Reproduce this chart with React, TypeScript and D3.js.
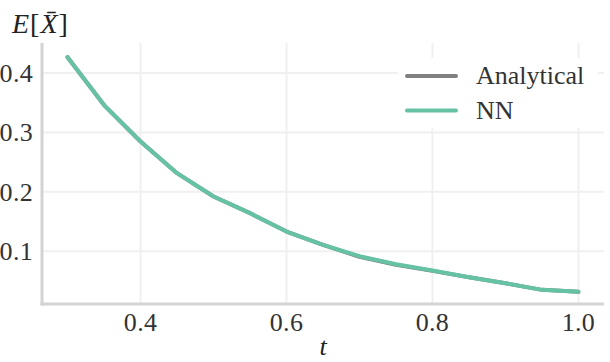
import React, { useEffect, useRef } from 'react';
import * as d3 from 'd3';

const tValues = [0.3, 0.35, 0.4, 0.45, 0.5, 0.55, 0.6, 0.65, 0.7, 0.75, 0.8, 0.85, 0.9, 0.95, 1.0];
const analytical = [0.4266, 0.346, 0.2847, 0.2313, 0.192, 0.164, 0.133, 0.1106, 0.0905, 0.0772, 0.0668, 0.0562, 0.046, 0.0348, 0.0315];
const nnValues = [0.4266, 0.346, 0.2847, 0.2313, 0.192, 0.164, 0.133, 0.1106, 0.0915, 0.078, 0.0673, 0.0562, 0.046, 0.0348, 0.0315];
const xTicks = [0.4, 0.6, 0.8, 1.0];
const yTicks = [0.1, 0.2, 0.3, 0.4];
const seriesNames = ['Analytical', 'NN'];
const seriesColors = ['#808080', '#66c2a5'];

const W = 610;
const H = 362;
const font = '"Liberation Serif", "DejaVu Serif", serif';

const App = () => {
  const svgRef = useRef<SVGSVGElement>(null);

  useEffect(() => {
    const svg = d3.select(svgRef.current);
    svg.selectAll('*').remove();

    const left = 42, right = 604, top = 43, bottom = 304;

    const x = d3.scaleLinear().domain([0.265, 1.035]).range([left, right]);
    const y = d3.scaleLinear().domain([0.011, 0.4505]).range([bottom, top]);

    // grid
    const grid = svg.append('g');
    grid.selectAll('line.v')
      .data(xTicks)
      .join('line')
        .attr('x1', d => x(d)).attr('x2', d => x(d))
        .attr('y1', top).attr('y2', bottom)
        .attr('stroke', '#f0f0f0').attr('stroke-width', 2);
    grid.selectAll('line.h')
      .data(yTicks)
      .join('line')
        .attr('x1', left).attr('x2', right)
        .attr('y1', d => y(d)).attr('y2', d => y(d))
        .attr('stroke', '#f0f0f0').attr('stroke-width', 2);

    // lines
    const line = d3.line<number>()
      .x((d, i) => x(tValues[i]))
      .y(d => y(d));

    [analytical, nnValues].forEach((vals, k) => {
      svg.append('path')
        .datum(vals)
        .attr('d', line)
        .attr('fill', 'none')
        .attr('stroke', seriesColors[k])
        .attr('stroke-width', 4)
        .attr('stroke-linecap', 'round')
        .attr('stroke-linejoin', 'round');
    });

    // spines
    svg.append('line')
      .attr('x1', left).attr('x2', left)
      .attr('y1', top).attr('y2', bottom + 1.5)
      .attr('stroke', '#d3d3d3').attr('stroke-width', 3);
    svg.append('line')
      .attr('x1', left - 1.5).attr('x2', right)
      .attr('y1', bottom).attr('y2', bottom)
      .attr('stroke', '#d3d3d3').attr('stroke-width', 3);

    // tick labels
    svg.append('g')
      .selectAll('text')
      .data(yTicks)
      .join('text')
        .attr('x', 33)
        .attr('y', d => y(d) + 9)
        .attr('text-anchor', 'end')
        .attr('font-family', font)
        .attr('font-size', 26)
        .attr('letter-spacing', 0.3)
        .attr('fill', '#333')
        .text(d => d3.format('.1f')(d));

    svg.append('g')
      .selectAll('text')
      .data(xTicks)
      .join('text')
        .attr('x', d => x(d))
        .attr('y', 331)
        .attr('text-anchor', 'middle')
        .attr('font-family', font)
        .attr('font-size', 26)
        .attr('letter-spacing', 0.3)
        .attr('fill', '#333')
        .text(d => d3.format('.1f')(d));

    // axis labels
    svg.append('text')
      .attr('x', x(0.65))
      .attr('y', 355)
      .attr('text-anchor', 'middle')
      .attr('font-family', font)
      .attr('font-style', 'italic')
      .attr('font-size', 26)
      .attr('fill', '#222')
      .text('t');

    const yl = svg.append('text')
      .attr('x', 12)
      .attr('y', 33)
      .attr('font-family', font)
      .attr('font-size', 28)
      .attr('letter-spacing', 1)
      .attr('fill', '#222');
    yl.append('tspan').attr('font-style', 'italic').text('E');
    yl.append('tspan').text('[');
    yl.append('tspan').attr('font-style', 'italic').text('X\u0304');
    yl.append('tspan').text(']');

    // legend
    const lg = svg.append('g');
    lg.append('rect')
      .attr('x', 398).attr('y', 58)
      .attr('width', 200).attr('height', 70)
      .attr('fill', 'white');
    seriesNames.forEach((name, i) => {
      const ly = 76 + i * 34.5;
      lg.append('line')
        .attr('x1', 407).attr('x2', 456)
        .attr('y1', ly).attr('y2', ly)
        .attr('stroke', seriesColors[i])
        .attr('stroke-width', 4)
        .attr('stroke-linecap', 'round');
      lg.append('text')
        .attr('x', 476)
        .attr('y', ly + 8)
        .attr('font-family', font)
        .attr('font-size', 26)
        .attr('fill', '#333')
        .text(name);
    });
  }, []);

  return (
    <svg
      ref={svgRef}
      width={W}
      height={H}
      style={{ position: 'absolute', left: 0, top: 0, background: 'white' }}
    />
  );
};

export default App;
